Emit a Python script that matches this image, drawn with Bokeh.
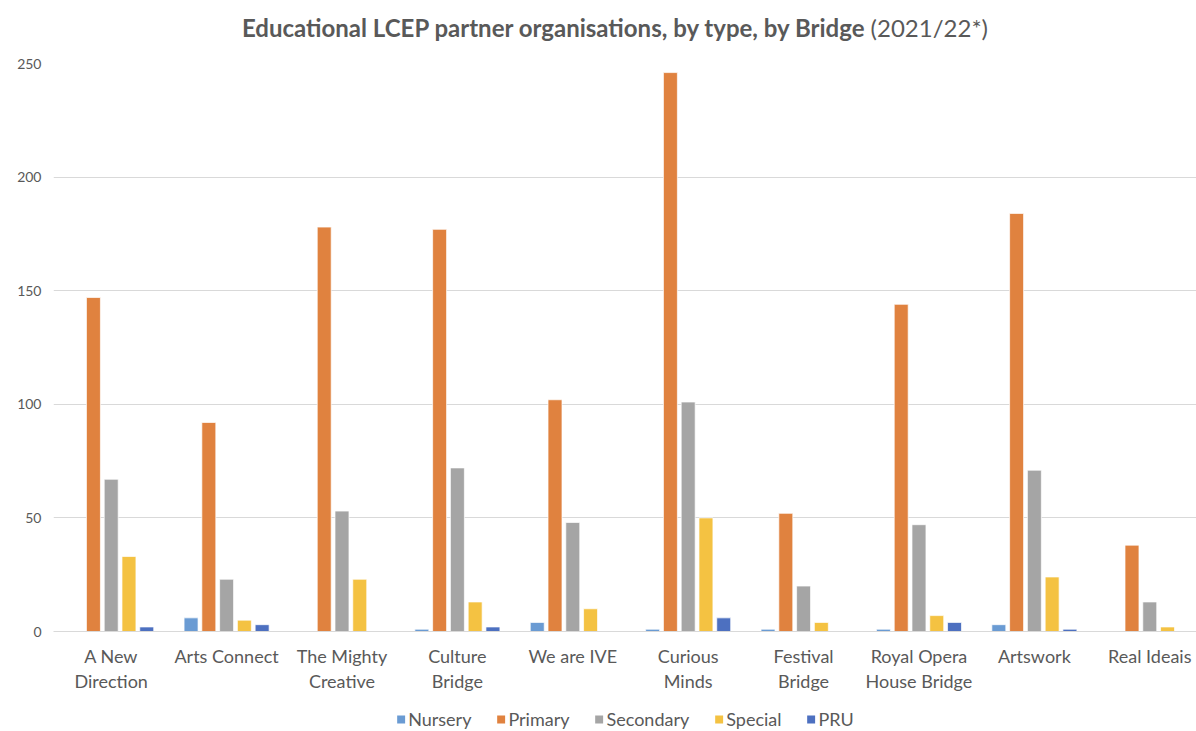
from bokeh.plotting import figure
from bokeh.models import Range1d, Legend, LegendItem, Div, FixedTicker
from bokeh.layouts import column
from bokeh.transform import dodge
from bokeh.embed import file_html
from bokeh.resources import INLINE

bridges = ["A New\nDirection", "Arts Connect", "The Mighty\nCreative", "Culture\nBridge",
           "We are IVE", "Curious\nMinds", "Festival\nBridge", "Royal Opera\nHouse Bridge",
           "Artswork", "Real Ideais"]
series = ["Nursery", "Primary", "Secondary", "Special", "PRU"]
nursery = [0, 6, 0, 1, 4, 1, 1, 1, 3, 0]
primary = [147, 92, 178, 177, 102, 246, 52, 144, 184, 38]
secondary = [67, 23, 53, 72, 48, 101, 20, 47, 71, 13]
special = [33, 5, 23, 13, 10, 50, 4, 7, 24, 2]
pru = [2, 3, 0, 2, 0, 6, 0, 4, 1, 0]
colors = ["#6A9BD3", "#E0823F", "#A5A5A5", "#F4C242", "#4D70C0"]

FONT = "Lato"
GREY = "#595959"

title = Div(text=('<div style="width:1162px;margin-left:34px;text-align:center;font-family:Lato;'
                  'font-size:24px;color:#595959;line-height:28px;padding-top:14px;">'
                  '<b>Educational LCEP partner organisations, by type, by Bridge</b> (2021/22*)</div>'),
            width=1196, height=48, margin=0)

pos = list(range(len(bridges)))
# the original chart is cropped at its right edge, part of the last category slot is cut off
p = figure(x_range=Range1d(-0.5, len(bridges) - 0.5 - 0.095), y_range=Range1d(0, 250),
           width=1196, height=658, output_backend="svg", toolbar_location=None,
           min_border_left=53, min_border_right=0, min_border_top=15, min_border_bottom=75)

data = dict(x=pos, Nursery=nursery, Primary=primary, Secondary=secondary,
            Special=special, PRU=pru)
pitch = 0.154
offsets = [-2 * pitch, -1 * pitch, 0, 1 * pitch, 2 * pitch]
for s, c, off in zip(series, colors, offsets):
    p.vbar(x=dodge("x", off), top=s, width=0.121, source=data,
           fill_color=c, line_color="white", line_width=0.7)

p.outline_line_color = None
p.xgrid.grid_line_color = None
p.ygrid.grid_line_color = "#D9D9D9"
p.ygrid.grid_line_width = 1
p.yaxis.ticker = [0, 50, 100, 150, 200, 250]
p.yaxis.axis_line_color = None
p.yaxis.major_tick_line_color = None
p.yaxis.minor_tick_line_color = None
p.yaxis.major_tick_out = 0
p.yaxis.major_label_text_font = FONT
p.yaxis.major_label_text_font_size = "14px"
p.yaxis.major_label_text_color = GREY
p.yaxis.major_label_standoff = 12

p.xaxis.ticker = FixedTicker(ticks=pos)
p.xaxis.major_label_overrides = {i: b for i, b in zip(pos, bridges)}
p.xaxis.axis_line_color = "#D9D9D9"
p.xaxis.major_tick_line_color = None
p.xaxis.minor_tick_line_color = None
p.xaxis.major_tick_out = 0
p.xaxis.major_label_text_font = FONT
p.xaxis.major_label_text_font_size = "18px"
p.xaxis.major_label_text_line_height = 1.15
p.xaxis.major_label_text_color = GREY
p.xaxis.major_label_standoff = 13

# legend strip
lg = figure(width=1196, height=25, output_backend="svg", toolbar_location=None,
            x_range=Range1d(0, 1), y_range=Range1d(0, 1),
            min_border_left=0, min_border_right=0, min_border_top=0, min_border_bottom=0)
lg.axis.visible = False
lg.grid.visible = False
lg.outline_line_color = None
items = []
for s, c in zip(series, colors):
    r = lg.quad(left=[5], right=[6], top=[5], bottom=[4], fill_color=c, line_color=None)
    items.append(LegendItem(label=s, renderers=[r]))
legend = Legend(items=items, orientation="horizontal", location="center",
                label_text_font=FONT, label_text_font_size="18px", label_text_color=GREY,
                glyph_width=10, glyph_height=10, spacing=24, label_standoff=3,
                border_line_color=None, background_fill_alpha=0, padding=0, margin=0)
lg.add_layout(legend, "center")

layout = column(title, p, lg, spacing=0)
open("out.html", "w").write(file_html(layout, INLINE))
